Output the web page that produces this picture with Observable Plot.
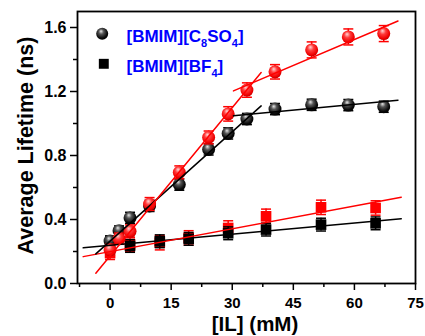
<!DOCTYPE html>
<html>
<head>
<meta charset="utf-8">
<script src="https://cdn.jsdelivr.net/npm/d3@7"></script>
<script src="https://cdn.jsdelivr.net/npm/@observablehq/plot@0.6"></script>
<style>
  html, body { margin: 0; padding: 0; background: #fff; }
  #chart { width: 425px; height: 336px; }
</style>
</head>
<body>
<svg width="0" height="0" style="position:absolute">
  <defs>
    <radialGradient id="gK" cx="0.45" cy="0.4" r="0.6" fx="0.4" fy="0.28">
      <stop offset="0" stop-color="#e8e8e8"/>
      <stop offset="0.35" stop-color="#555"/>
      <stop offset="0.8" stop-color="#0a0a0a"/>
      <stop offset="1" stop-color="#000"/>
    </radialGradient>
    <radialGradient id="gR" cx="0.45" cy="0.4" r="0.6" fx="0.4" fy="0.28">
      <stop offset="0" stop-color="#ffd6d6"/>
      <stop offset="0.4" stop-color="#ff3b3b"/>
      <stop offset="0.85" stop-color="#ee0000"/>
      <stop offset="1" stop-color="#c00000"/>
    </radialGradient>
  </defs>
</svg>
<div id="chart"></div>
<script>
// ---- data ----
const ilCircle = [0, 2.2, 4.9, 9.7, 17, 24.2, 29, 33.6, 40.5, 49.5, 58.5, 67.2];
const c8BlackY = [0.265, 0.33, 0.41, 0.485, 0.618, 0.838, 0.938, 1.028, 1.09, 1.117, 1.115, 1.105];
const c8BlackErr = [0.03, 0.03, 0.035, 0.035, 0.035, 0.035, 0.035, 0.035, 0.035, 0.035, 0.035, 0.035];
const c8RedY = [0.21, 0.28, 0.326, 0.497, 0.695, 0.913, 1.06, 1.209, 1.323, 1.46, 1.541, 1.562];
const c8RedErr = [0.035, 0.035, 0.04, 0.04, 0.04, 0.04, 0.045, 0.045, 0.045, 0.05, 0.05, 0.05];

const ilSquare = [0, 4.9, 12.2, 19.3, 29, 38.3, 51.8, 65.2];
const bf4BlackY = [0.258, 0.235, 0.264, 0.279, 0.314, 0.337, 0.368, 0.376];
const bf4BlackErr = [0.04, 0.04, 0.04, 0.04, 0.04, 0.04, 0.04, 0.04];
const bf4RedY = [0.19, 0.245, 0.255, 0.285, 0.347, 0.42, 0.476, 0.472];
const bf4RedErr = [0.04, 0.045, 0.045, 0.045, 0.045, 0.045, 0.045, 0.045];

// fitted lines (end points)
const fitC8BlackLowX = [-3.5, 37.1], fitC8BlackLowY = [0.185, 1.11];
const fitC8BlackHighX = [30.3, 70.7], fitC8BlackHighY = [1.048, 1.146];
const fitC8RedLowX = [-3.5, 37.1], fitC8RedLowY = [0.064, 1.319];
const fitC8RedHighX = [30.3, 70.7], fitC8RedHighY = [1.204, 1.641];
const fitBF4BlackX = [-6.6, 71.5], fitBF4BlackY = [0.223, 0.404];
const fitBF4RedX = [-6.6, 71.5], fitBF4RedY = [0.168, 0.539];

const xTicks = [0, 15, 30, 45, 60, 75];
const xMinorTicks = [-7.5, 7.5, 22.5, 37.5, 52.5, 67.5];
const yTicks = [0, 0.4, 0.8, 1.2, 1.6];
const yMinorTicks = [0.2, 0.6, 1.0, 1.4];

const legendLabels = ["[BMIM][C8SO4]", "[BMIM][BF4]"];
const xTitle = "[IL] (mM)";
const yTitle = "Average Lifetime (ns)";

// ---- build tables ----
const pts = (xs, ys, es) => xs.map((x, i) => ({x, y: ys[i], e: es ? es[i] : 0}));
const c8Black = pts(ilCircle, c8BlackY, c8BlackErr);
const c8Red = pts(ilCircle, c8RedY, c8RedErr);
const bf4Black = pts(ilSquare, bf4BlackY, bf4BlackErr);
const bf4Red = pts(ilSquare, bf4RedY, bf4RedErr);
const line = (xs, ys) => xs.map((x, i) => ({x, y: ys[i]}));

const capSymbol = {draw(ctx) { ctx.moveTo(-5, 0); ctx.lineTo(5, 0); }};

function errMarks(data, color) {
  return [
    Plot.ruleX(data, {x: "x", y1: d => d.y - d.e, y2: d => d.y + d.e, stroke: color, strokeWidth: 1.5}),
    Plot.dot(data, {x: "x", y: d => d.y + d.e, symbol: capSymbol, stroke: color, strokeWidth: 1.5, fill: "none"}),
    Plot.dot(data, {x: "x", y: d => d.y - d.e, symbol: capSymbol, stroke: color, strokeWidth: 1.5, fill: "none"})
  ];
}

const chart = Plot.plot({
  width: 425,
  height: 336,
  marginLeft: 77,
  marginRight: 10,
  marginTop: 11,
  marginBottom: 53,
  style: {fontFamily: "'Liberation Sans', Arial, sans-serif", fontWeight: "bold", color: "#000", background: "#fff", overflow: "visible"},
  x: {domain: [-8, 75]},
  y: {domain: [0, 1.7]},
  marks: [
    Plot.axisX({ticks: xTicks, tickSize: 7, tickPadding: 7, fontSize: 15, label: null, strokeWidth: 1.5}),
    Plot.axisX({ticks: xMinorTicks, tickSize: 4, text: null, label: null, strokeWidth: 1.5}),
    Plot.axisY({ticks: yTicks, tickSize: 7, tickPadding: 4, fontSize: 16, tickFormat: d3.format(".1f"), label: null, strokeWidth: 1.5}),
    Plot.axisY({ticks: yMinorTicks, tickSize: 4, text: null, label: null, strokeWidth: 1.5}),

    ...errMarks(bf4Red, "#ff0000"),
    Plot.dot(bf4Red, {x: "x", y: "y", symbol: "square", r: 6, fill: "#ff0000"}),
    ...errMarks(bf4Black, "#000"),
    Plot.dot(bf4Black, {x: "x", y: "y", symbol: "square", r: 6, fill: "#000"}),

    ...errMarks(c8Black, "#000"),
    Plot.dot(c8Black, {x: "x", y: "y", r: 6.5, fill: "url(#gK)"}),
    ...errMarks(c8Red, "#ff0000"),
    Plot.dot(c8Red, {x: "x", y: "y", r: 6.5, fill: "url(#gR)"}),

    Plot.line(line(fitBF4BlackX, fitBF4BlackY), {x: "x", y: "y", stroke: "#000", strokeWidth: 1.5}),
    Plot.line(line(fitBF4RedX, fitBF4RedY), {x: "x", y: "y", stroke: "#ff0000", strokeWidth: 1.5}),
    Plot.line(line(fitC8BlackLowX, fitC8BlackLowY), {x: "x", y: "y", stroke: "#000", strokeWidth: 1.5}),
    Plot.line(line(fitC8BlackHighX, fitC8BlackHighY), {x: "x", y: "y", stroke: "#000", strokeWidth: 1.5}),
    Plot.line(line(fitC8RedLowX, fitC8RedLowY), {x: "x", y: "y", stroke: "#ff0000", strokeWidth: 1.5}),
    Plot.line(line(fitC8RedHighX, fitC8RedHighY), {x: "x", y: "y", stroke: "#ff0000", strokeWidth: 1.5}),

    Plot.frame({stroke: "#000", strokeWidth: 1.8}),

    // legend
    Plot.dot([legendLabels[0]], {frameAnchor: "top-left", dx: 24.7, dy: 22.3, r: 6, fill: "url(#gK)"}),
    Plot.dot([legendLabels[1]], {frameAnchor: "top-left", dx: 26.3, dy: 52.3, r: 5.6, symbol: "square", fill: "#000"}),
    Plot.text([legendLabels[0]], {text: d => d, frameAnchor: "top-left", dx: 49, dy: 25, textAnchor: "start", lineAnchor: "middle", fill: "#0000ff", fontSize: 17, fontWeight: "bold"}),
    Plot.text([legendLabels[1]], {text: d => d, frameAnchor: "top-left", dx: 49, dy: 55, textAnchor: "start", lineAnchor: "middle", fill: "#0000ff", fontSize: 17, fontWeight: "bold"}),

    // axis titles
    Plot.text([xTitle], {text: d => d, frameAnchor: "bottom", dx: 8.5, dy: 41, textAnchor: "middle", lineAnchor: "middle", fontSize: 20.5, fontWeight: "bold", fill: "#000"}),
    Plot.text([yTitle], {text: d => d, frameAnchor: "left", rotate: -90, dx: -51, dy: -2, textAnchor: "middle", lineAnchor: "middle", fontSize: 21.5, fontWeight: "bold", fill: "#000"})
  ]
});

document.getElementById("chart").appendChild(chart);

// subscripts in legend labels
const subs = {
  "[BMIM][C8SO4]": [["[BMIM][C", false], ["8", true], ["SO", false], ["4", true], ["]", false]],
  "[BMIM][BF4]": [["[BMIM][BF", false], ["4", true], ["]", false]]
};
d3.select(chart).selectAll("text").each(function () {
  const parts = subs[this.textContent];
  if (!parts) return;
  const t = d3.select(this);
  t.text(null);
  let lowered = false;
  for (const [s, sub] of parts) {
    const span = t.append("tspan").text(s);
    if (sub && !lowered) { span.attr("dy", 5).attr("font-size", 11); lowered = true; }
    else if (sub) { span.attr("font-size", 11); }
    else if (lowered) { span.attr("dy", -5); lowered = false; }
  }
});
</script>
</body>
</html>
